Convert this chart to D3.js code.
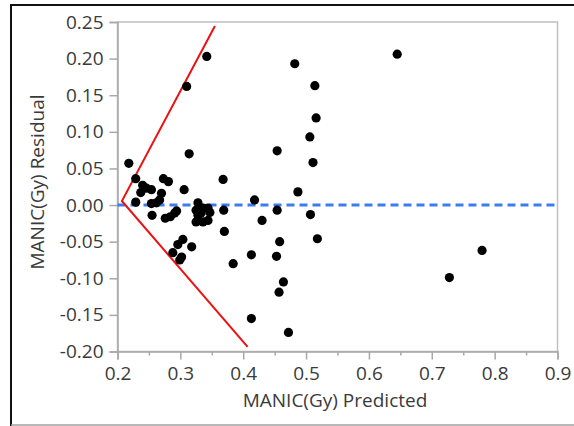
<!DOCTYPE html>
<html><head><meta charset="utf-8">
<script src="https://cdn.jsdelivr.net/npm/d3@7"></script>
<style>
html,body{margin:0;padding:0;background:#fff;}
svg{display:block;}
text{font-family:"Open Sans","Noto Sans",sans-serif;}
</style></head>
<body><div id="chart"></div>
<script>
// Data: predicted (x) and residual (y)
const predicted = [0.342,0.310,0.482,0.314,0.218,0.454,0.368,0.487,0.645,0.514,0.516,0.506,0.511,0.507,0.518,0.728,0.780,0.472,0.464,0.457,0.458,0.453,0.454,0.430,0.418,0.413,0.413,0.384,0.370,0.369,0.229,0.240,0.246,0.254,0.237,0.270,0.273,0.281,0.306,0.229,0.254,0.262,0.267,0.255,0.276,0.284,0.291,0.294,0.328,0.336,0.344,0.347,0.325,0.328,0.333,0.325,0.336,0.344,0.304,0.296,0.288,0.318,0.302,0.299];
const residual  = [0.203,0.162,0.193,0.070,0.057,0.074,0.035,0.018,0.206,0.163,0.119,0.093,0.058,-0.013,-0.046,-0.099,-0.062,-0.174,-0.105,-0.119,-0.050,-0.070,-0.007,-0.021,0.007,-0.068,-0.155,-0.080,-0.036,-0.007,0.036,0.027,0.023,0.021,0.017,0.016,0.036,0.032,0.021,0.004,0.002,0.003,0.007,-0.014,-0.018,-0.016,-0.011,-0.008,0.003,-0.004,-0.004,-0.010,-0.007,-0.014,-0.011,-0.023,-0.023,-0.021,-0.047,-0.054,-0.065,-0.057,-0.071,-0.075];
const xTicks = [0.2,0.3,0.4,0.5,0.6,0.7,0.8,0.9];
const xMinorTicks = [0.25,0.35,0.45,0.55,0.65,0.75,0.85];
const yTicks = [0.25,0.20,0.15,0.10,0.05,0.00,-0.05,-0.10,-0.15,-0.20];
// Red envelope lines (predicted, residual)
const envX = [0.355,0.207,0.407];
const envY = [0.2445,0.0055,-0.1936];

const W=574,H=426;
const m={left:117.5,right:W-557.5,top:22,bottom:H-351.5};
const svg=d3.select("#chart").append("svg").attr("width",W).attr("height",H);

// outer frame
svg.append("line").attr("x1",10).attr("x2",574).attr("y1",5).attr("y2",5).attr("stroke","#111").attr("stroke-width",2);
svg.append("line").attr("x1",11).attr("x2",11).attr("y1",4).attr("y2",426).attr("stroke","#111").attr("stroke-width",2);
svg.append("line").attr("x1",11).attr("x2",574).attr("y1",425).attr("y2",425).attr("stroke","#a0a0a0").attr("stroke-width",1.5);

const x=d3.scaleLinear().domain([0.2,0.9]).range([m.left,W-m.right]);
const y=d3.scaleLinear().domain([-0.2,0.25]).range([H-m.bottom,m.top]);

const axisColor="#a8a8a8", textColor="#3a3a3a";

// plot frame
svg.append("rect").attr("x",x(0.2)).attr("y",y(0.25)).attr("width",x(0.9)-x(0.2)).attr("height",y(-0.2)-y(0.25))
  .attr("fill","none").attr("stroke","#c0c0c0").attr("stroke-width",1.5);

// x axis
const gx=svg.append("g").attr("transform",`translate(0,${y(-0.2)})`)
  .call(d3.axisBottom(x).tickValues(xTicks).tickFormat(d3.format(".1f")).tickSize(8).tickPadding(7));
const gxm=svg.append("g").attr("transform",`translate(0,${y(-0.2)})`)
  .call(d3.axisBottom(x).tickValues(xMinorTicks).tickFormat("").tickSize(4));
gxm.select(".domain").remove();
// y axis
const gy=svg.append("g").attr("transform",`translate(${x(0.2)},0)`)
  .call(d3.axisLeft(y).tickValues(yTicks).tickFormat(d3.format(".2f")).tickSize(8).tickPadding(6));
[gx,gxm,gy].forEach(g=>{
  g.selectAll(".domain").attr("stroke",axisColor).attr("stroke-width",1.5);
  g.selectAll(".tick line").attr("stroke",axisColor).attr("stroke-width",1.5);
  g.selectAll("text").attr("fill",textColor).style("font-size","19px").style("font-family","'Open Sans',sans-serif");
});
gy.selectAll(".tick text").text(d=>d3.format(".2f")(d).replace("−","-"));

// zero dashed line
svg.append("line").attr("x1",x(0.2)).attr("x2",x(0.9)).attr("y1",y(0)).attr("y2",y(0))
  .attr("stroke","#3d7bf5").attr("stroke-width",3).attr("stroke-dasharray","8,5");

// red envelope
const env=envX.map((d,i)=>[d,envY[i]]);
svg.append("path").attr("d",d3.line().x(d=>x(d[0])).y(d=>y(d[1]))(env))
  .attr("fill","none").attr("stroke","#ee1111").attr("stroke-width",2);

// points
svg.append("g").selectAll("circle").data(predicted.map((d,i)=>[d,residual[i]])).join("circle")
  .attr("cx",d=>x(d[0])).attr("cy",d=>y(d[1])).attr("r",4.6).attr("fill","#000");

// axis titles
svg.append("text").attr("x",335).attr("y",407).attr("text-anchor","middle")
  .attr("fill",textColor).style("font-size","19px").text("MANIC(Gy) Predicted");
svg.append("text").attr("transform",`translate(44,182) rotate(-90)`).attr("text-anchor","middle")
  .attr("fill",textColor).style("font-size","19px").text("MANIC(Gy) Residual");
</script></body></html>
